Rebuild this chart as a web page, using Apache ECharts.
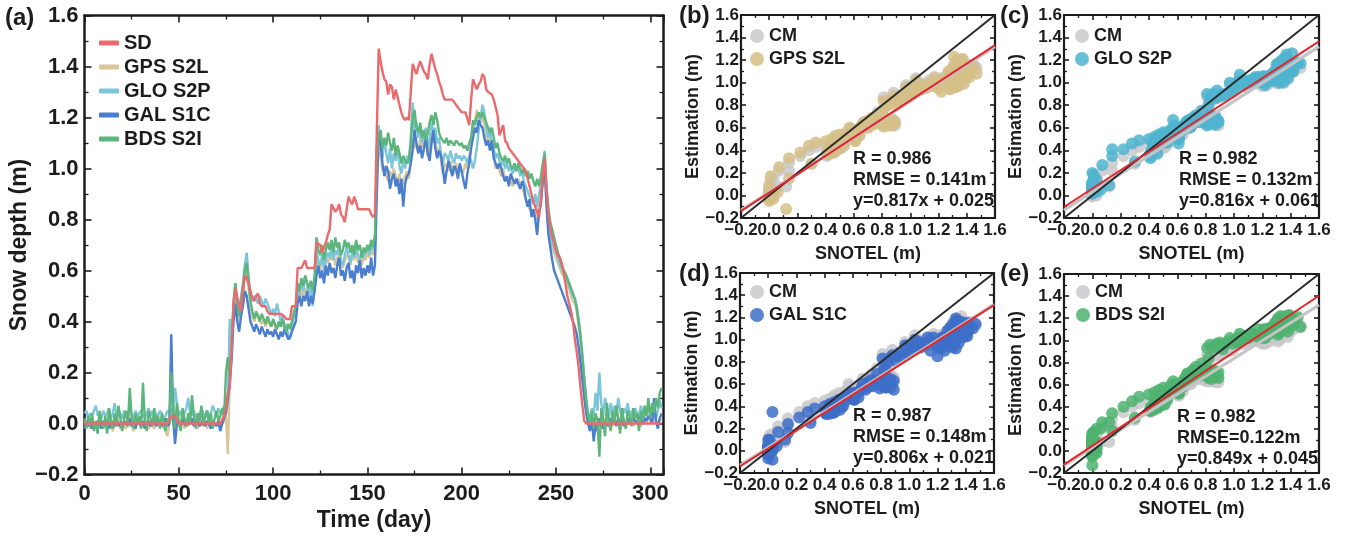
<!DOCTYPE html>
<html>
<head>
<meta charset="utf-8">
<script src="https://cdn.jsdelivr.net/npm/echarts/dist/echarts.min.js"></script>
<style>
  html, body { margin: 0; padding: 0; background: #ffffff; }
  #chart { width: 1345px; height: 542px; }
</style>
</head>
<body>
<div id="chart"></div>
<script>
// Daily snow depth (m), day 0 .. 306
const SD = [
  0,0,0,0,0,0,0,0,0,0,
  0,0,0,0,0,0,0,0,0,0,
  0,0,0,0,0,0,0,0,0,0,
  0,0,0,0,0,0,0,0,0,0,
  0,0,0,0,0,0,0.03,0.03,0.03,0.03,
  0,0,0,0,0,0,0,0,0,0,
  0,0,0,0,0,0,0,0,0,0,
  0,0,0,0,0.03,0.06,0.12,0.14,0.30,0.47,
  0.53,0.53,0.46,0.44,0.52,0.58,0.57,0.55,0.52,0.49,
  0.48,0.50,0.51,0.47,0.46,0.46,0.46,0.44,0.43,0.43,
  0.43,0.43,0.43,0.43,0.43,0.43,0.42,0.41,0.41,0.41,
  0.46,0.46,0.46,0.61,0.61,0.61,0.61,0.64,0.61,0.61,
  0.61,0.61,0.61,0.71,0.71,0.70,0.67,0.69,0.71,0.74,
  0.76,0.86,0.86,0.83,0.84,0.86,0.82,0.81,0.79,0.84,
  0.89,0.87,0.86,0.89,0.87,0.84,0.84,0.84,0.84,0.84,
  0.84,0.84,0.82,0.81,0.82,1.15,1.47,1.42,1.38,1.35,
  1.34,1.29,1.33,1.32,1.27,1.31,1.28,1.25,1.22,1.20,
  1.19,1.20,1.19,1.30,1.41,1.39,1.37,1.40,1.42,1.40,
  1.38,1.37,1.35,1.41,1.45,1.42,1.39,1.37,1.34,1.32,
  1.29,1.27,1.27,1.27,1.27,1.27,1.27,1.25,1.24,1.23,
  1.22,1.22,1.22,1.22,1.17,1.27,1.35,1.33,1.31,1.33,
  1.34,1.37,1.36,1.31,1.30,1.30,1.29,1.27,1.24,1.21,
  1.13,1.15,1.17,1.11,1.10,1.08,1.07,1.06,1.05,1.04,
  1.03,1.02,1.02,1.00,0.99,0.96,0.93,0.90,0.87,0.85,
  0.83,0.81,0.88,0.97,1.04,0.92,0.82,0.77,0.73,0.71,
  0.68,0.66,0.65,0.63,0.60,0.55,0.50,0.47,0.44,0.40,
  0.33,0.28,0.22,0.14,0.07,0.01,0,0,0,0,
  0,0,0,0,0,0,0,0,0,0,
  0,0,0,0,0,0,0,0,0,0,
  0,0,0,0,0,0,0,0,0,0,
  0,0,0,0,0,0,0
];

// GPS S2L retrieval (m)
const GPS_S2L = [
  0.01,-0.01,0.00,-0.02,0.01,-0.01,0.00,-0.02,-0.01,0.01,
  -0.01,0.00,-0.02,0.01,-0.01,-0.03,0.00,-0.01,0.01,-0.02,
  0.00,-0.01,-0.02,0.01,-0.01,0.00,-0.03,-0.01,0.00,0.01,
  -0.02,0.00,-0.01,0.01,-0.02,0.00,-0.01,-0.02,0.01,0.00,
  -0.01,0.01,-0.02,-0.03,-0.05,0.00,0.02,0.01,-0.03,0.00,
  -0.01,0.01,0.00,-0.02,0.01,-0.01,0.00,0.01,-0.01,0.00,
  -0.02,0.01,0.00,-0.01,0.01,-0.02,0.00,0.01,-0.01,0.00,
  -0.01,0.01,-0.02,0.00,0.01,0.03,-0.12,0.15,0.28,0.45,
  0.50,0.44,0.40,0.45,0.50,0.58,0.60,0.53,0.46,0.42,
  0.40,0.42,0.43,0.40,0.39,0.41,0.38,0.40,0.39,0.38,
  0.40,0.38,0.37,0.39,0.38,0.40,0.37,0.38,0.39,0.37,
  0.40,0.42,0.44,0.50,0.48,0.52,0.50,0.53,0.51,0.52,
  0.49,0.55,0.52,0.66,0.62,0.60,0.65,0.62,0.64,0.63,
  0.66,0.64,0.67,0.62,0.65,0.66,0.63,0.61,0.64,0.66,
  0.65,0.62,0.66,0.64,0.67,0.63,0.65,0.62,0.66,0.64,
  0.67,0.65,0.68,0.66,0.69,0.98,1.08,1.05,0.99,1.01,
  0.97,0.95,0.99,0.96,1.00,0.97,0.94,0.98,0.92,0.95,
  0.97,0.99,0.96,1.04,1.12,1.08,1.10,1.06,1.12,1.08,
  1.10,1.12,1.05,1.08,1.14,1.10,1.12,1.06,1.08,1.03,
  0.98,1.02,1.01,0.99,1.03,1.00,0.98,1.02,1.00,1.01,
  0.98,0.99,1.02,1.00,1.04,1.10,1.15,1.19,1.23,1.20,
  1.18,1.21,1.17,1.12,1.10,1.13,1.08,1.05,1.00,1.02,
  0.99,0.97,1.00,0.95,0.97,0.94,0.96,0.93,0.95,0.94,
  0.96,0.92,0.94,0.90,0.88,0.86,0.84,0.83,0.81,0.84,
  0.80,0.84,0.88,0.96,1.02,0.88,0.78,0.72,0.69,0.67,
  0.65,0.63,0.61,0.59,0.58,0.56,0.54,0.53,0.50,0.48,
  0.47,0.44,0.38,0.33,0.25,0.17,0.09,0.02,0.00,-0.02,
  0.01,-0.03,0.00,0.02,-0.01,0.01,0.00,-0.01,0.02,0.00,
  -0.01,0.01,0.00,0.02,-0.01,0.00,0.01,-0.01,0.00,0.02,
  0.00,-0.01,0.01,0.00,0.02,-0.01,0.00,0.01,0.00,0.02,
  0.01,0.00,0.03,0.01,0.00,0.02,0.01
];

// GLONASS S2P retrieval (m)
const GLO_S2P = [
  0.04,0.05,0.02,0.04,0.03,0.05,0.07,0.03,0.04,0.02,
  0.05,0.03,0.04,0.06,0.02,0.04,0.08,0.03,0.05,0.04,
  0.02,0.05,0.04,0.03,0.06,0.04,0.02,0.05,0.03,0.04,
  0.05,0.03,0.02,0.04,0.06,0.03,0.05,0.02,0.04,0.03,
  0.05,0.04,0.02,0.03,0.05,0.04,0.06,0.03,0.14,0.08,
  0.03,0.05,0.02,0.04,0.06,0.10,0.04,0.03,0.05,0.02,
  0.04,0.03,0.06,0.04,0.02,0.05,0.03,0.04,0.07,0.05,
  0.03,0.06,0.04,0.05,0.07,0.05,0.09,0.41,0.30,0.45,
  0.55,0.47,0.44,0.50,0.55,0.62,0.67,0.58,0.50,0.48,
  0.50,0.49,0.47,0.50,0.48,0.46,0.49,0.47,0.45,0.43,
  0.45,0.42,0.47,0.44,0.40,0.42,0.39,0.38,0.35,0.33,
  0.37,0.44,0.45,0.52,0.50,0.56,0.52,0.58,0.55,0.50,
  0.53,0.46,0.55,0.68,0.64,0.62,0.66,0.60,0.64,0.67,
  0.65,0.69,0.64,0.68,0.66,0.70,0.64,0.62,0.66,0.69,
  0.66,0.63,0.68,0.65,0.70,0.66,0.64,0.68,0.65,0.67,
  0.69,0.66,0.70,0.68,0.71,1.05,1.17,1.10,1.04,1.12,
  1.06,1.02,1.08,1.00,1.06,1.03,1.08,1.01,0.98,1.03,
  1.00,1.05,1.02,1.12,1.26,1.14,1.18,1.12,1.16,1.10,
  1.13,1.16,1.08,1.12,1.18,1.14,1.16,1.10,1.12,1.06,
  1.02,1.06,1.05,1.03,1.07,1.04,1.02,1.06,1.04,1.05,
  1.03,1.05,1.04,1.02,1.05,1.03,1.00,1.03,1.08,1.15,
  1.20,1.25,1.22,1.17,1.12,1.16,1.10,1.08,1.04,1.06,
  1.03,1.01,1.04,1.00,1.02,0.99,1.01,0.98,1.00,0.99,
  1.01,0.97,0.99,0.95,0.93,0.91,0.89,0.88,0.86,0.90,
  0.85,0.90,0.93,1.00,1.07,0.90,0.80,0.75,0.71,0.69,
  0.67,0.65,0.62,0.61,0.59,0.57,0.56,0.54,0.52,0.50,
  0.49,0.46,0.41,0.35,0.27,0.18,0.10,0.04,0.02,0.06,
  0.03,0.12,0.05,0.20,0.08,0.03,0.10,0.06,0.02,0.08,
  0.04,0.07,0.03,0.10,0.05,0.02,0.06,0.04,0.08,0.03,
  0.05,0.02,0.06,0.04,0.03,0.07,0.04,0.02,0.05,0.06,
  0.03,0.07,0.04,0.02,0.05,0.09,0.06
];

// Galileo S1C retrieval (m)
const GAL_S1C = [
  -0.02,0.00,-0.01,0.01,-0.02,0.00,-0.01,0.01,0.00,-0.02,
  0.01,-0.01,0.00,-0.02,0.01,0.00,-0.01,0.02,-0.01,0.00,
  -0.02,0.01,0.00,-0.01,0.02,-0.01,0.00,-0.02,0.01,0.00,
  -0.01,0.01,-0.02,0.00,0.01,-0.01,0.00,0.02,-0.01,0.00,
  0.01,-0.01,0.00,0.02,-0.01,0.00,0.35,0.02,-0.08,0.00,
  0.01,-0.01,0.02,0.00,-0.01,0.01,0.00,0.02,-0.01,0.00,
  0.01,-0.01,0.00,0.02,-0.01,0.01,0.00,-0.02,0.01,0.00,
  -0.01,0.01,-0.03,0.00,0.02,0.04,0.10,0.16,0.25,0.40,
  0.47,0.40,0.36,0.42,0.46,0.52,0.50,0.45,0.40,0.38,
  0.36,0.39,0.37,0.35,0.38,0.36,0.34,0.37,0.35,0.36,
  0.34,0.37,0.35,0.33,0.36,0.34,0.37,0.35,0.33,0.34,
  0.36,0.38,0.40,0.47,0.50,0.46,0.50,0.48,0.52,0.46,
  0.50,0.47,0.52,0.58,0.62,0.57,0.60,0.55,0.62,0.58,
  0.63,0.59,0.61,0.57,0.62,0.65,0.58,0.60,0.56,0.61,
  0.63,0.57,0.60,0.55,0.62,0.59,0.64,0.57,0.61,0.58,
  0.62,0.59,0.65,0.58,0.62,0.90,1.14,1.10,1.02,0.97,
  1.01,0.99,0.92,0.96,0.98,0.93,0.96,0.90,0.96,0.85,
  0.94,0.97,0.98,1.02,1.07,1.15,1.10,1.06,1.09,1.04,
  1.08,1.12,1.06,1.03,1.10,1.15,1.08,1.04,1.07,1.05,
  1.00,0.94,0.99,1.03,1.00,0.97,1.01,1.00,0.96,1.02,
  0.99,0.95,0.92,0.98,1.02,1.08,1.12,1.16,1.14,1.19,
  1.17,1.16,1.12,1.09,1.11,1.07,1.11,1.04,1.02,1.00,
  1.02,1.00,0.97,0.95,0.97,0.93,0.98,0.96,0.94,0.96,
  0.94,0.92,0.95,0.93,0.88,0.85,0.88,0.81,0.84,0.80,
  0.74,0.83,0.86,0.95,1.00,0.85,0.74,0.69,0.64,0.60,
  0.58,0.56,0.54,0.52,0.50,0.48,0.46,0.44,0.42,0.40,
  0.38,0.35,0.30,0.24,0.17,0.10,0.04,0.00,-0.03,0.02,
  -0.07,0.00,-0.03,0.02,0.00,-0.02,0.01,0.00,-0.01,0.02,
  0.00,0.01,-0.01,0.02,0.00,0.01,-0.01,0.00,0.02,0.01,
  0.00,0.02,0.01,0.00,0.03,0.01,0.00,0.02,0.01,0.03,
  0.02,0.00,0.10,0.01,-0.02,0.02,0.04
];

// BeiDou S2I retrieval (m)
const BDS_S2I = [
  0.02,-0.02,0.03,-0.01,0.04,-0.03,0.01,-0.04,0.05,0.00,
  -0.02,0.03,-0.04,0.06,0.01,-0.02,0.04,-0.01,0.07,0.02,
  -0.03,0.02,0.05,-0.01,0.14,0.02,-0.02,0.04,0.00,0.03,
  -0.02,0.16,0.01,-0.03,0.05,0.02,-0.01,0.06,0.00,0.03,
  -0.02,0.04,0.01,-0.03,0.02,0.00,0.20,0.05,-0.02,0.08,
  0.01,-0.03,0.06,0.02,-0.01,0.04,0.00,0.11,0.03,-0.02,
  0.04,0.01,0.07,-0.01,0.03,0.05,0.00,0.04,-0.02,0.02,
  0.05,0.01,0.03,0.06,0.02,0.20,0.26,0.18,0.30,0.48,
  0.55,0.47,0.42,0.48,0.53,0.60,0.63,0.56,0.48,0.44,
  0.41,0.44,0.42,0.40,0.43,0.41,0.39,0.42,0.40,0.38,
  0.41,0.39,0.37,0.40,0.38,0.41,0.38,0.36,0.39,0.37,
  0.40,0.43,0.46,0.55,0.52,0.57,0.54,0.58,0.55,0.53,
  0.56,0.52,0.58,0.73,0.68,0.66,0.70,0.64,0.68,0.71,
  0.68,0.72,0.67,0.73,0.69,0.71,0.66,0.68,0.72,0.69,
  0.71,0.67,0.70,0.66,0.72,0.68,0.70,0.65,0.69,0.67,
  0.70,0.68,0.72,0.69,0.74,1.05,1.12,1.15,1.08,1.12,
  1.09,1.14,1.10,1.07,1.12,1.05,1.09,1.06,1.02,1.05,
  1.03,1.02,1.04,1.10,1.20,1.23,1.16,1.14,1.18,1.12,
  1.15,1.11,1.14,1.18,1.21,1.17,1.22,1.19,1.14,1.12,
  1.11,1.10,1.12,1.09,1.11,1.10,1.09,1.11,1.10,1.09,
  1.10,1.08,1.09,1.07,1.10,1.12,1.19,1.17,1.20,1.22,
  1.20,1.22,1.20,1.18,1.16,1.14,1.16,1.12,1.08,1.10,
  1.06,1.04,1.03,1.05,1.02,1.04,1.01,1.00,1.02,0.99,
  1.02,1.00,0.98,1.00,0.97,0.99,0.96,0.98,0.95,0.93,
  0.96,0.93,0.97,1.02,1.06,0.92,0.84,0.79,0.76,0.73,
  0.70,0.67,0.65,0.62,0.60,0.59,0.57,0.55,0.53,0.51,
  0.49,0.45,0.40,0.34,0.26,0.17,0.09,0.03,0.00,0.05,
  -0.02,0.04,0.01,-0.13,0.06,0.02,-0.05,0.08,0.01,-0.03,
  0.05,0.00,0.07,0.02,-0.04,0.06,0.01,-0.02,0.05,0.03,
  -0.01,0.06,0.02,0.04,-0.03,0.05,0.01,0.07,0.03,0.10,
  0.02,0.08,0.04,0.10,0.06,0.12,0.14
];

// Combined-method retrieval (m)
const CM = [
  0.01,0.00,0.02,0.01,0.00,0.01,0.02,0.00,0.01,0.00,
  0.01,0.02,0.00,0.01,0.01,0.00,0.02,0.01,0.02,0.01,
  0.00,0.01,0.02,0.01,0.04,0.01,0.00,0.01,0.01,0.02,
  0.00,0.05,0.00,0.01,0.02,0.01,0.01,0.02,0.01,0.01,
  0.01,0.02,0.00,0.01,0.01,0.01,0.15,0.03,0.00,0.04,
  0.01,0.01,0.02,0.01,0.01,0.03,0.01,0.04,0.01,0.00,
  0.01,0.01,0.03,0.01,0.01,0.02,0.01,0.01,0.01,0.01,
  0.01,0.02,0.00,0.03,0.03,0.08,0.08,0.22,0.28,0.44,
  0.52,0.45,0.41,0.46,0.51,0.58,0.60,0.53,0.46,0.43,
  0.42,0.43,0.42,0.41,0.42,0.41,0.40,0.41,0.40,0.39,
  0.40,0.39,0.39,0.39,0.38,0.39,0.38,0.37,0.36,0.35,
  0.38,0.42,0.44,0.51,0.50,0.53,0.51,0.54,0.53,0.50,
  0.52,0.50,0.54,0.66,0.64,0.61,0.65,0.60,0.64,0.65,
  0.65,0.66,0.65,0.65,0.65,0.68,0.63,0.63,0.64,0.66,
  0.66,0.62,0.66,0.62,0.68,0.64,0.66,0.63,0.65,0.64,
  0.67,0.64,0.69,0.65,0.69,1.00,1.13,1.10,1.03,1.05,
  1.03,1.02,1.02,1.00,1.04,0.99,1.02,0.99,0.97,0.97,
  0.98,1.01,1.00,1.07,1.16,1.15,1.13,1.09,1.14,1.08,
  1.11,1.13,1.08,1.10,1.16,1.14,1.14,1.10,1.10,1.06,
  1.03,1.03,1.04,1.03,1.05,1.03,1.02,1.05,1.02,1.04,
  1.02,1.02,1.02,1.02,1.05,1.08,1.11,1.14,1.16,1.19,
  1.19,1.21,1.18,1.14,1.12,1.12,1.11,1.07,1.03,1.04,
  1.02,1.00,1.01,0.99,0.99,0.97,0.99,0.97,0.98,0.97,
  0.98,0.95,0.96,0.94,0.91,0.90,0.89,0.87,0.86,0.86,
  0.83,0.87,0.91,0.98,1.04,0.88,0.79,0.74,0.69,0.66,
  0.64,0.62,0.60,0.58,0.56,0.54,0.52,0.50,0.47,0.45,
  0.43,0.40,0.35,0.29,0.22,0.14,0.07,0.02,0.00,0.03,
  -0.01,0.03,0.01,0.02,0.03,0.01,0.02,0.03,0.01,0.02,
  0.02,0.02,0.02,0.03,0.00,0.02,0.02,0.00,0.04,0.02,
  0.01,0.02,0.02,0.02,0.01,0.03,0.01,0.03,0.02,0.05,
  0.02,0.04,0.05,0.03,0.02,0.06,0.06
];

// Scatter panels (b)-(e)
const panelTags    = ['(b)', '(c)', '(d)', '(e)'];
const panelSignals = ['GPS S2L', 'GLO S2P', 'GAL S1C', 'BDS S2I'];
const panelR       = [0.986, 0.982, 0.987, 0.982];
const panelRMSE    = [0.141, 0.132, 0.148, 0.122];
const rmseJoin     = [' = ', ' = ', ' = ', '='];
const fitSlope     = [0.817, 0.816, 0.806, 0.849];
const fitIntercept = [0.025, 0.061, 0.021, 0.045];
const cmSlope = 0.806;
const cmIntercept = 0.03;

// Panel (a) series
const lineNames = ['SD', 'GPS S2L', 'GLO S2P', 'GAL S1C', 'BDS S2I'];
const xTicksDay = [0, 50, 100, 150, 200, 250, 300];

const signalData = { 'GPS S2L': GPS_S2L, 'GLO S2P': GLO_S2P, 'GAL S1C': GAL_S1C, 'BDS S2I': BDS_S2I };
const lineColors = { 'SD': '#ea6a6d', 'GPS S2L': '#d8c699', 'GLO S2P': '#7cc6d9', 'GAL S1C': '#4a7ecf', 'BDS S2I': '#5cb67b' };
const dotColors  = { 'CM': '#c9c9cc', 'GPS S2L': '#d5bf88', 'GLO S2P': '#4fb4cf', 'GAL S1C': '#3d6fc8', 'BDS S2I': '#4eb36f' };

const FONT = '"Liberation Sans", Arial, Helvetica, sans-serif';
const INK = '#1c1c1c';

function fmt1(v) {
  if (Math.abs(v) < 1e-9) return '0.0';
  return v.toFixed(1).replace('-', '\u2212');
}

// grid boxes in px
const grids = [
  { left: 84.5, top: 15.5, width: 579, height: 459 },
  { left: 741, top: 15, width: 254, height: 203 },
  { left: 1064, top: 15, width: 255, height: 203 },
  { left: 740, top: 273, width: 254, height: 200 },
  { left: 1064, top: 274, width: 255, height: 199 }
];

function makeAxis(dim, gi, cfg, mirror) {
  const a = {
    type: 'value',
    gridIndex: gi,
    position: mirror ? (dim === 'x' ? 'top' : 'right') : (dim === 'x' ? 'bottom' : 'left'),
    min: cfg.min, max: cfg.max, interval: cfg.interval,
    axisLine: { show: true, onZero: false, lineStyle: { color: INK, width: cfg.lw } },
    axisTick: { show: true, inside: true, length: cfg.tick, lineStyle: { color: INK, width: 1.6 } },
    minorTick: { show: true, splitNumber: 2, length: cfg.minor, lineStyle: { color: INK, width: 1.3 } },
    splitLine: { show: false },
    axisLabel: mirror ? { show: false } : {
      show: true, color: INK, fontFamily: FONT, fontWeight: 'bold', fontSize: cfg.fs,
      margin: cfg.margin, formatter: cfg.fmt, interval: 0, hideOverlap: false,
      showMinLabel: true, showMaxLabel: true
    }
  };
  if (!mirror && cfg.name) {
    a.name = cfg.name;
    a.nameLocation = 'middle';
    a.nameGap = cfg.nameGap;
    a.nameTextStyle = { color: INK, fontFamily: FONT, fontWeight: 'bold', fontSize: cfg.nameFs };
  }
  return a;
}

// a bare bottom axis that only carries the leftmost tick label
function makeMinLabelAxis(gi, cfg) {
  return {
    type: 'value', gridIndex: gi, position: 'bottom',
    min: cfg.min, max: cfg.max, interval: cfg.interval,
    axisLine: { show: false, onZero: false }, axisTick: { show: false },
    minorTick: { show: false }, splitLine: { show: false },
    axisLabel: {
      show: true, color: INK, fontFamily: FONT, fontWeight: 'bold', fontSize: cfg.fs,
      margin: cfg.margin, interval: 0, showMinLabel: true, showMaxLabel: false,
      formatter: v => (Math.abs(v - cfg.min) < 1e-9 ? fmt1(v) : '')
    }
  };
}

const xAxes = [], yAxes = [], series = [], legends = [], graphics = [];

// panel (a) axes
const ax = { min: 0, max: 307, interval: 50, tick: 7, minor: 4, fs: 22, margin: 8, lw: 2.5,
  fmt: v => (xTicksDay.indexOf(v) >= 0 ? String(v) : ''), name: 'Time (day)', nameGap: 34, nameFs: 23 };
const ay = { min: -0.2, max: 1.6, interval: 0.2, tick: 7, minor: 4, fs: 22, margin: 6, lw: 2.5,
  fmt: fmt1, name: 'Snow depth (m)', nameGap: 45, nameFs: 23 };
xAxes.push(makeAxis('x', 0, ax, false), makeAxis('x', 0, ax, true));
yAxes.push(makeAxis('y', 0, ay, false), makeAxis('y', 0, ay, true));

// panel (a) lines, SD drawn on top
['GPS S2L', 'GLO S2P', 'GAL S1C', 'BDS S2I', 'SD'].forEach((nm, k) => {
  const vals = nm === 'SD' ? SD : signalData[nm];
  series.push({
    type: 'line', name: nm, xAxisIndex: 0, yAxisIndex: 0,
    data: vals.map((v, i) => [i, v]),
    showSymbol: false, symbol: 'none',
    lineStyle: { color: lineColors[nm], width: 2.4 },
    itemStyle: { color: lineColors[nm] },
    z: nm === 'SD' ? 10 : 3 + k,
    silent: true
  });
});

legends.push({
  data: lineNames, orient: 'vertical', left: 99, top: 33, padding: 0,
  icon: 'roundRect', itemWidth: 20, itemHeight: 5, itemGap: 4,
  selectedMode: false,
  textStyle: { color: INK, fontFamily: FONT, fontWeight: 'bold', fontSize: 20, lineHeight: 20 }
});

graphics.push({ type: 'text', left: 5, top: 6,
  style: { text: '(a)', fill: INK, fontFamily: FONT, fontWeight: 'bold', fontSize: 24 } });

// scatter panels
const tagPos   = [[679, 4], [1000, 4], [679, 262], [1000, 262]];
const statsPos = [[853, 149], [1179, 149], [853, 406], [1177, 407]];
const legendPos = [[750, 27], [1075, 27], [750, 283], [1076, 283]];

panelSignals.forEach((sig, p) => {
  const gi = p + 1;
  const sx = { min: -0.2, max: 1.6, interval: 0.2, tick: 5, minor: 3, fs: 17, margin: 4, lw: 2.2,
    fmt: v => (v < -0.1 ? '' : fmt1(v)), name: 'SNOTEL (m)', nameGap: 27, nameFs: 18 };
  const sy = { min: -0.2, max: 1.6, interval: 0.2, tick: 5, minor: 3, fs: 17, margin: 2, lw: 2.2,
    fmt: fmt1, name: 'Estimation (m)', nameGap: 39, nameFs: 18 };
  const xi = xAxes.length, yi = yAxes.length;
  xAxes.push(makeAxis('x', gi, sx, false), makeAxis('x', gi, sx, true), makeMinLabelAxis(gi, sx));
  yAxes.push(makeAxis('y', gi, sy, false), makeAxis('y', gi, sy, true));

  const est = signalData[sig];
  const key = panelTags[p] + ' ' + sig;

  series.push({
    type: 'scatter', name: 'CM', xAxisIndex: xi, yAxisIndex: yi,
    data: SD.map((v, i) => [v, CM[i]]),
    symbol: 'circle', symbolSize: 12,
    itemStyle: { color: dotColors['CM'], opacity: 0.85 }, z: 2, silent: true
  });
  series.push({
    type: 'scatter', name: key, xAxisIndex: xi, yAxisIndex: yi,
    data: SD.map((v, i) => [v, est[i]]),
    symbol: 'circle', symbolSize: 12,
    itemStyle: { color: dotColors[sig], opacity: 0.85 }, z: 3, silent: true
  });
  // CM regression line
  series.push({
    type: 'line', xAxisIndex: xi, yAxisIndex: yi, symbol: 'none', silent: true,
    data: [[-0.2, cmSlope * -0.2 + cmIntercept], [1.6, cmSlope * 1.6 + cmIntercept]],
    lineStyle: { color: '#c4c4c6', width: 3 }, z: 4
  });
  // 1:1 line
  series.push({
    type: 'line', xAxisIndex: xi, yAxisIndex: yi, symbol: 'none', silent: true,
    data: [[-0.2, -0.2], [1.6, 1.6]],
    lineStyle: { color: '#2b2b2b', width: 2 }, z: 5
  });
  // fitted line for the signal
  series.push({
    type: 'line', xAxisIndex: xi, yAxisIndex: yi, symbol: 'none', silent: true,
    data: [[-0.2, fitSlope[p] * -0.2 + fitIntercept[p]], [1.6, fitSlope[p] * 1.6 + fitIntercept[p]]],
    lineStyle: { color: '#e3262b', width: 2 }, z: 6
  });

  legends.push({
    data: ['CM', key], orient: 'vertical', left: legendPos[p][0], top: legendPos[p][1], padding: 0,
    icon: 'circle', itemWidth: 14, itemHeight: 14, itemGap: 5, selectedMode: false,
    formatter: nm => nm.replace(panelTags[p] + ' ', ''),
    textStyle: { color: INK, fontFamily: FONT, fontWeight: 'bold', fontSize: 18, lineHeight: 18 }
  });

  graphics.push({ type: 'text', left: tagPos[p][0], top: tagPos[p][1],
    style: { text: panelTags[p], fill: INK, fontFamily: FONT, fontWeight: 'bold', fontSize: 24 } });

  const stats = 'R = ' + panelR[p].toFixed(3) + '\n' +
    'RMSE' + rmseJoin[p] + panelRMSE[p].toFixed(3) + 'm\n' +
    'y=' + fitSlope[p].toFixed(3) + 'x + ' + fitIntercept[p].toFixed(3);
  graphics.push({ type: 'text', left: statsPos[p][0], top: statsPos[p][1], z: 20,
    style: { text: stats, fill: INK, fontFamily: FONT, fontWeight: 'bold', fontSize: 18, lineHeight: 21 } });
});

const chart = echarts.init(document.getElementById('chart'), null, { renderer: 'canvas' });
chart.setOption({
  backgroundColor: '#ffffff',
  animation: false,
  grid: grids,
  xAxis: xAxes,
  yAxis: yAxes,
  legend: legends,
  series: series,
  graphic: graphics
});
</script>
</body>
</html>
